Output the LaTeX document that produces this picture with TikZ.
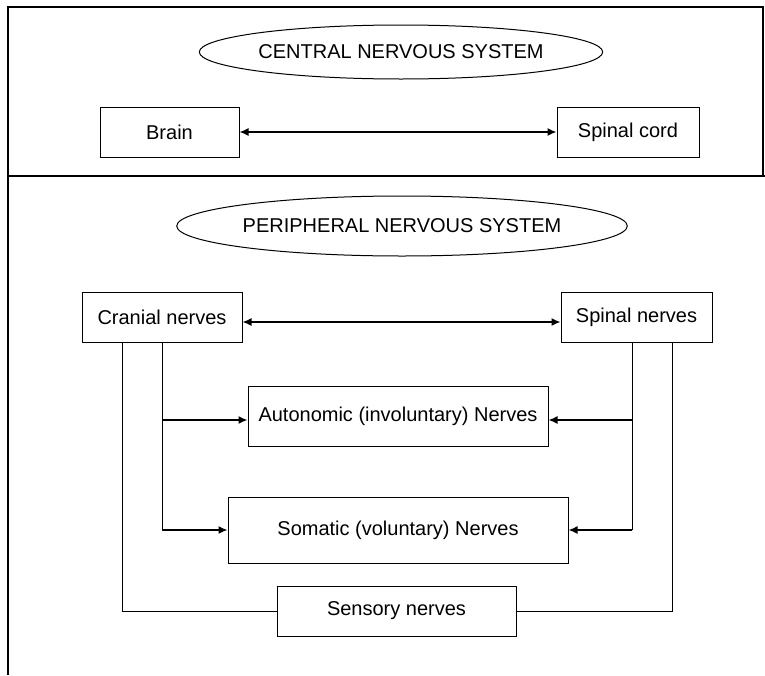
\documentclass[tikz,border=0pt]{standalone}
\usepackage{fontspec}
\setmainfont{Liberation Sans}
\usepackage{tikz}
\usetikzlibrary{arrows.meta,positioning,calc,shapes.geometric}

\begin{document}
\begin{tikzpicture}[
  x=1pt, y=-1pt,
  font=\fontsize{20}{24}\selectfont,
  box/.style={draw, line width=1pt, inner sep=0pt, align=center},
  oval/.style={draw, ellipse, line width=1pt, inner sep=0pt},
  frame/.style={line width=2.6pt},
  wire/.style={line width=1pt},
  arr/.style={-{Latex[length=9pt,width=8pt]}, line width=1.5pt},
  both/.style={{Latex[length=9pt,width=8pt]}-{Latex[length=9pt,width=8pt]}, line width=1.5pt}
]
\useasboundingbox (0,0) rectangle (765,675);

% outer frame and divider
\draw[frame] (8,675) -- (8,7) -- (763,7) -- (763,176);
\draw[frame] (8,176) -- (765,176);

% central part
\node[oval, minimum width=347pt, minimum height=54pt] (cns) at (401,52) {CENTRAL NERVOUS SYSTEM};
\node[box, minimum width=139pt, minimum height=50pt] (brain) at (169.5,132) {Brain};
\node[box, minimum width=142pt, minimum height=50pt] (cord) at (628,132) {Spinal cord};

\draw[both] (brain) -- (cord);

% peripheral part
\node[oval, minimum width=368pt, minimum height=60pt] (pns) at (402,226) {PERIPHERAL NERVOUS SYSTEM};
\node[box, minimum width=160pt, minimum height=50pt] (cran) at (162,317) {Cranial nerves};
\node[box, minimum width=151pt, minimum height=50pt] (spin) at (636.5,317) {Spinal nerves};
\node[box, minimum width=300pt, minimum height=60pt] (auto) at (398,416) {Autonomic (involuntary) Nerves};
\node[box, minimum width=340pt, minimum height=66pt] (soma) at (398,530) {Somatic (voluntary) Nerves};
\node[box, minimum width=239pt, minimum height=50pt] (sens) at (396.5,611) {Sensory nerves};

\draw[both] ([yshift=-5pt]cran.east) -- ([yshift=-5pt]spin.west);

\draw[wire] (cran.south) -- (cran.south |- soma.west);
\draw[arr] ([yshift=-4pt]cran.south |- auto.west) -- ([yshift=-4pt]auto.west);
\draw[arr] (cran.south |- soma.west) -- (soma.west);
\draw[wire] ([xshift=-40pt]cran.south) |- (sens.west);

\draw[wire] ([xshift=-4.5pt]spin.south) -- ([xshift=-4.5pt]spin.south |- soma.east);
\draw[arr] ([xshift=-4.5pt,yshift=-4pt]spin.south |- auto.east) -- ([yshift=-4pt]auto.east);
\draw[arr] ([xshift=-4.5pt]spin.south |- soma.east) -- (soma.east);
\draw[wire] ([xshift=35.5pt]spin.south) |- (sens.east);

\end{tikzpicture}
\end{document}
